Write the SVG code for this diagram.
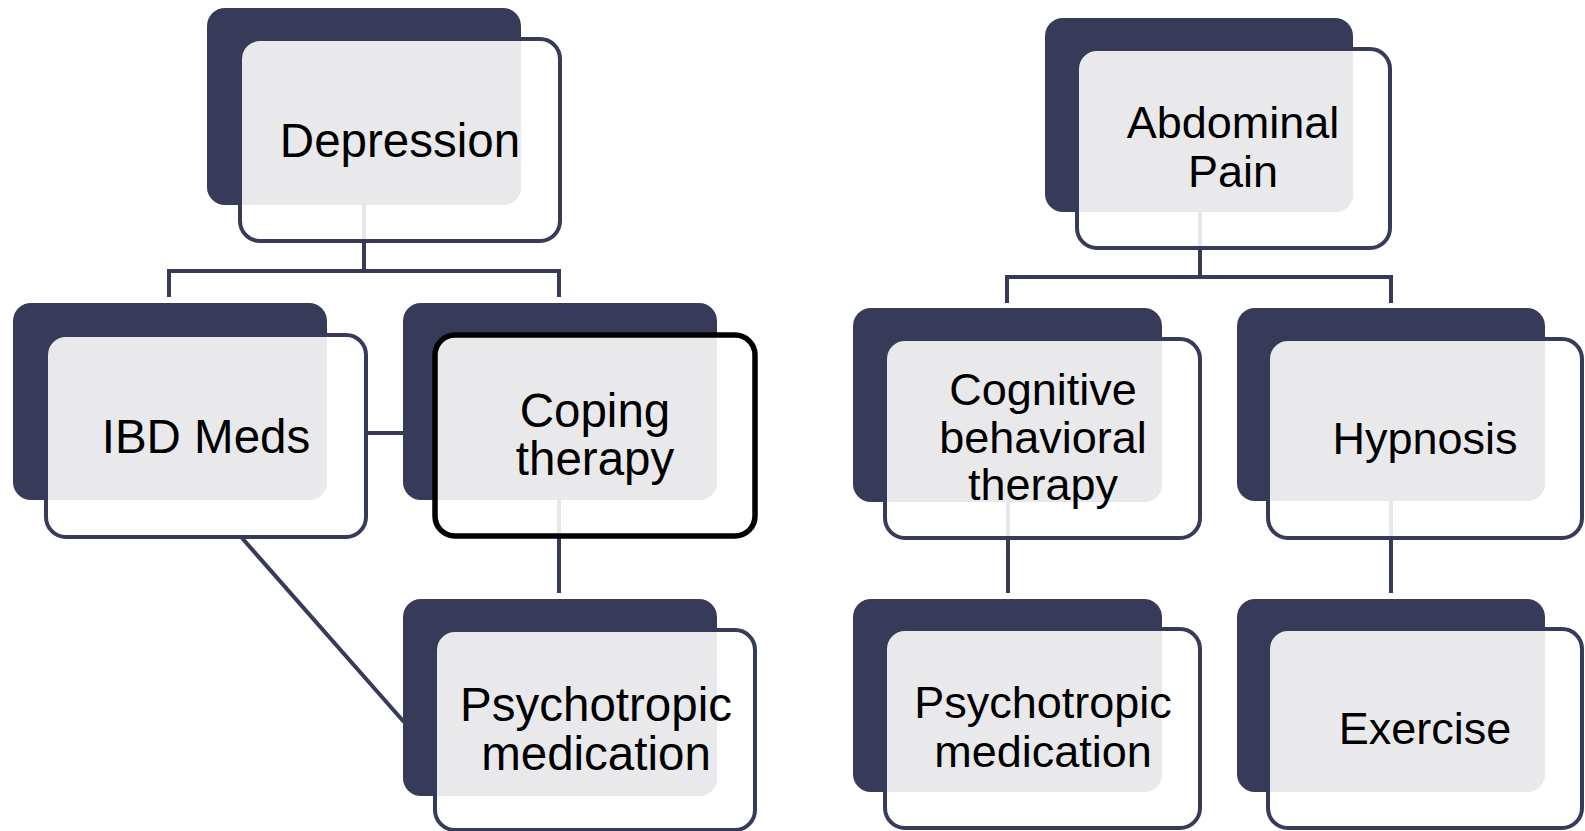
<svg xmlns="http://www.w3.org/2000/svg" width="1585" height="831" viewBox="0 0 1585 831">
  <style>
    .back { fill: #373A59; }
    .front { fill: #FFFFFF; fill-opacity: 0.88; stroke: none; }
    .shade { fill: #E9E9EB; }
    .rim { fill: none; stroke: #373A59; stroke-width: 4; }
    .rim-hi { fill: none; stroke: #000000; stroke-width: 5.5; }
    .link { fill: none; stroke: #373A59; stroke-width: 4; }
    .lbl { font-family: "Liberation Sans", Arial, sans-serif; fill: #000000; text-anchor: middle; }
    .big { font-size: 47.5px; }
    .mid { font-size: 45px; }
  </style>

  <!-- connectors sit underneath the cards -->
  <g id="connectors">
    <path class="link" d="M364 205 V271 H169 V297"/>
    <path class="link" d="M364 271 H559 V297"/>
    <path class="link" d="M367 433 H404"/>
    <path class="link" d="M242 538 L404 722"/>
    <path class="link" d="M559 500 V593"/>
    <path class="link" d="M1200 212 V277 H1007 V303"/>
    <path class="link" d="M1200 277 H1391 V303"/>
    <path class="link" d="M1008 502 V593"/>
    <path class="link" d="M1391 500 V593"/>
  </g>

  <!-- left tree -->
  <g id="node-depression">
    <rect class="back" x="207" y="8" width="314" height="197" rx="18"/>
    <rect class="front" x="240" y="39" width="320" height="202" rx="20"/>
    <path class="shade" d="M240 59 A20 20 0 0 1 260 39 H521 V187 A18 18 0 0 1 503 205 H240 Z"/>
    <rect class="rim" x="240" y="39" width="320" height="202" rx="20"/>
    <text class="lbl big" x="400" y="157">Depression</text>
  </g>

  <g id="node-ibd-meds">
    <rect class="back" x="13" y="303" width="314" height="197" rx="18"/>
    <rect class="front" x="46" y="335" width="320" height="202" rx="20"/>
    <path class="shade" d="M46 355 A20 20 0 0 1 66 335 H327 V482 A18 18 0 0 1 309 500 H46 Z"/>
    <rect class="rim" x="46" y="335" width="320" height="202" rx="20"/>
    <text class="lbl big" x="206" y="453">IBD Meds</text>
  </g>

  <g id="node-coping-therapy">
    <rect class="back" x="403" y="303" width="314" height="197" rx="18"/>
    <rect class="front" x="435" y="335" width="320" height="201" rx="20"/>
    <path class="shade" d="M435 355 A20 20 0 0 1 455 335 H717 V482 A18 18 0 0 1 699 500 H435 Z"/>
    <rect class="rim-hi" x="435" y="335" width="320" height="201" rx="20"/>
    <text class="lbl big" x="595" y="427">Coping</text>
    <text class="lbl big" x="595" y="475">therapy</text>
  </g>

  <g id="node-psychotropic-left">
    <rect class="back" x="403" y="599" width="314" height="197" rx="18"/>
    <rect class="front" x="435" y="630" width="320" height="200" rx="20"/>
    <path class="shade" d="M435 650 A20 20 0 0 1 455 630 H717 V778 A18 18 0 0 1 699 796 H435 Z"/>
    <rect class="rim" x="435" y="630" width="320" height="200" rx="20"/>
    <text class="lbl big" x="596" y="721">Psychotropic</text>
    <text class="lbl big" x="596" y="770">medication</text>
  </g>

  <!-- right tree -->
  <g id="node-abdominal-pain">
    <rect class="back" x="1045" y="18" width="308" height="194" rx="18"/>
    <rect class="front" x="1077" y="49" width="313" height="199" rx="20"/>
    <path class="shade" d="M1077 69 A20 20 0 0 1 1097 49 H1353 V194 A18 18 0 0 1 1335 212 H1077 Z"/>
    <rect class="rim" x="1077" y="49" width="313" height="199" rx="20"/>
    <text class="lbl mid" x="1233" y="138">Abdominal</text>
    <text class="lbl mid" x="1233" y="187">Pain</text>
  </g>

  <g id="node-cbt">
    <rect class="back" x="853" y="308" width="309" height="194" rx="18"/>
    <rect class="front" x="885" y="339" width="315" height="199" rx="20"/>
    <path class="shade" d="M885 359 A20 20 0 0 1 905 339 H1162 V484 A18 18 0 0 1 1144 502 H885 Z"/>
    <rect class="rim" x="885" y="339" width="315" height="199" rx="20"/>
    <text class="lbl mid" x="1043" y="405">Cognitive</text>
    <text class="lbl mid" x="1043" y="453">behavioral</text>
    <text class="lbl mid" x="1043" y="500">therapy</text>
  </g>

  <g id="node-hypnosis">
    <rect class="back" x="1237" y="308" width="308" height="193" rx="18"/>
    <rect class="front" x="1268" y="339" width="314" height="199" rx="20"/>
    <path class="shade" d="M1268 359 A20 20 0 0 1 1288 339 H1545 V483 A18 18 0 0 1 1527 501 H1268 Z"/>
    <rect class="rim" x="1268" y="339" width="314" height="199" rx="20"/>
    <text class="lbl mid" x="1425" y="454">Hypnosis</text>
  </g>

  <g id="node-psychotropic-right">
    <rect class="back" x="853" y="599" width="309" height="193" rx="18"/>
    <rect class="front" x="885" y="629" width="315" height="199" rx="20"/>
    <path class="shade" d="M885 649 A20 20 0 0 1 905 629 H1162 V774 A18 18 0 0 1 1144 792 H885 Z"/>
    <rect class="rim" x="885" y="629" width="315" height="199" rx="20"/>
    <text class="lbl mid" x="1043" y="718">Psychotropic</text>
    <text class="lbl mid" x="1043" y="767">medication</text>
  </g>

  <g id="node-exercise">
    <rect class="back" x="1237" y="599" width="308" height="193" rx="18"/>
    <rect class="front" x="1268" y="629" width="314" height="199" rx="20"/>
    <path class="shade" d="M1268 649 A20 20 0 0 1 1288 629 H1545 V774 A18 18 0 0 1 1527 792 H1268 Z"/>
    <rect class="rim" x="1268" y="629" width="314" height="199" rx="20"/>
    <text class="lbl mid" x="1425" y="744">Exercise</text>
  </g>
</svg>
